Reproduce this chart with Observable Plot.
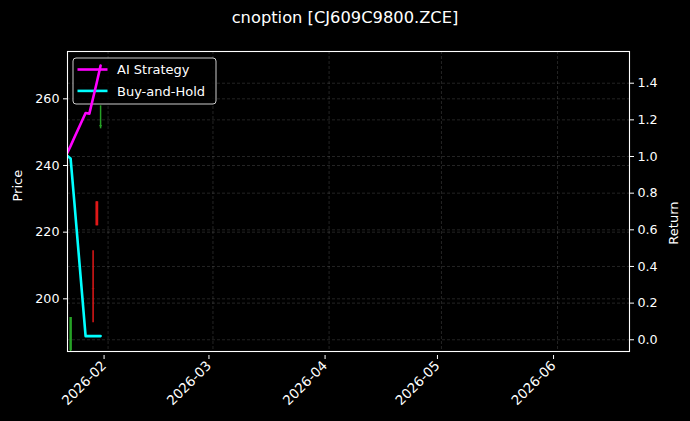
<!DOCTYPE html>
<html><head><meta charset="utf-8">
<script src="https://cdn.jsdelivr.net/npm/d3@7"></script>
<script src="https://cdn.jsdelivr.net/npm/@observablehq/plot@0.6"></script>
<style>
html,body{margin:0;padding:0;background:#000;}
#chart{width:690px;height:421px;position:relative;background:#000;font-family:"DejaVu Sans",sans-serif;color:#fff;}
#title{height:36px;line-height:36px;text-align:center;font-size:16.3px;}
svg{display:block;}
</style></head><body>
<div id="chart"><div id="title">cnoption [CJ609C9800.ZCE]</div></div>
<script>
// ---- data ----
const lineDates = ["2026-01-21","2026-01-22","2026-01-23","2026-01-26","2026-01-27","2026-01-28","2026-01-29","2026-01-30"];
const aiReturn  = [1.015, 1.058, 1.104, 1.237, 1.234, 1.319, 1.405, 1.496];
const bhReturn  = [1.005, 0.989, 0.75, 0.02, 0.02, 0.02, 0.02, 0.02];

const candleDates = ["2026-01-22","2026-01-28","2026-01-29","2026-01-30"];
const candleOpen  = [184.5, 203.0, 229.1, 251.6];
const candleClose = [194.4, 202.9, 221.9, 252.0];
const candleHigh  = [194.4, 214.4, 229.1, 257.9];
const candleLow   = [183.0, 192.8, 221.9, 251.0];

const priceTicks  = [200, 220, 240, 260];
const returnTicks = [0.0, 0.2, 0.4, 0.6, 0.8, 1.0, 1.2, 1.4];
const xDomain = ["2026-01-21T04:00Z", "2026-06-20T05:00Z"];
const priceDomain  = [184.2, 274.2];
const returnDomain = [-0.064, 1.573];
const seriesNames = ["AI Strategy", "Buy-and-Hold"];
const seriesColors = ["#ff00ff", "#00ffff"];

// ---- build tables ----
const parse = d3.utcParse("%Y-%m-%d");
const toPrice = d3.scaleLinear().domain(returnDomain).range(priceDomain);
const lines = [];
lineDates.forEach((d, i) => {
  lines.push({date: parse(d), series: seriesNames[0], v: toPrice(aiReturn[i])});
  lines.push({date: parse(d), series: seriesNames[1], v: toPrice(bhReturn[i])});
});
const candles = candleDates.map((d, i) => ({
  date: parse(d), open: candleOpen[i], close: candleClose[i], high: candleHigh[i], low: candleLow[i]
}));
const up = candles.filter(d => d.close >= d.open);
const down = candles.filter(d => d.close < d.open);
const xd = xDomain.map(s => new Date(s));
const monthTicks = d3.utcMonths(xd[0], xd[1]);
const GREEN = "#26a226", RED = "#e01818";
const gridStyle = {stroke: "#ffffff", strokeOpacity: 0.24, strokeWidth: 0.6, strokeDasharray: "3,2"};

const plot = Plot.plot({
  width: 690, height: 385,
  marginTop: 15, marginBottom: 70, marginLeft: 67, marginRight: 61,
  style: {background: "#000", color: "#fff", fontFamily: "DejaVu Sans, sans-serif", fontSize: "12.7px"},
  x: {type: "utc", domain: xd},
  y: {domain: priceDomain},
  color: {domain: seriesNames, range: seriesColors},
  marks: [
    Plot.gridX(monthTicks, {...gridStyle}),
    Plot.gridY(priceTicks, {...gridStyle}),
    Plot.gridY(returnTicks.map(toPrice), {...gridStyle}),
    Plot.ruleX(up, {x: "date", y1: "low", y2: "high", stroke: GREEN, strokeWidth: 1.5, clip: true}),
    Plot.ruleX(up, {x: "date", y1: "open", y2: "close", stroke: GREEN, strokeWidth: 2.4, clip: true}),
    Plot.ruleX(down, {x: "date", y1: "low", y2: "high", stroke: RED, strokeWidth: 1.5, clip: true}),
    Plot.ruleX(down, {x: "date", y1: "open", y2: "close", stroke: RED, strokeWidth: 2.8, clip: true}),
    Plot.line(lines, {x: "date", y: "v", z: "series", stroke: "series", strokeWidth: 2.6, clip: true}),
    Plot.frame({stroke: "#fff", strokeWidth: 1.1}),
    Plot.axisY(priceTicks, {anchor: "left", tickSize: 4, tickPadding: 4, label: null, stroke: "#fff", fill: "#fff"}),
    Plot.axisY(returnTicks.map(toPrice), {anchor: "right", tickSize: 4, tickPadding: 4, label: null, stroke: "#fff", fill: "#fff",
      tickFormat: p => { const r = toPrice.invert(p); return (Math.abs(r) < 1e-9 ? 0 : r).toFixed(1); }}),
    Plot.axisX(monthTicks, {anchor: "bottom", tickSize: 4, tickPadding: 4, tickRotate: -45, label: null,
      tickFormat: d3.utcFormat("%Y-%m"), stroke: "#fff", fill: "#fff", fontSize: 13.4, dx: -4, dy: 4}),
    Plot.text(["Price"], {frameAnchor: "left", dx: -50, rotate: -90, fill: "#fff", fontSize: 13}),
    Plot.text(["Return"], {frameAnchor: "right", dx: 44, rotate: -90, fill: "#fff", fontSize: 13})
  ]
});
document.getElementById("chart").appendChild(plot);

// ---- legend (drawn beneath the return lines, above the candles) ----
const firstLine = plot.querySelector('g[aria-label="line"]');
const lg = document.createElementNS("http://www.w3.org/2000/svg", "g");
plot.insertBefore(lg, firstLine);
const L = d3.select(lg).attr("transform", "translate(73,22)");
L.append("rect").attr("width", 143).attr("height", 46).attr("rx", 3)
  .attr("fill", "#000").attr("fill-opacity", 0.85).attr("stroke", "#cccccc").attr("stroke-width", 1);
seriesNames.forEach((name, i) => {
  const y = 11.5 + i * 21.4;
  L.append("line").attr("x1", 4.5).attr("x2", 34.5).attr("y1", y).attr("y2", y)
    .attr("stroke", seriesColors[i]).attr("stroke-width", 2.6);
  L.append("text").attr("x", 44).attr("y", y).attr("dy", "0.36em").attr("text-anchor", "start")
    .attr("fill", "#fff").attr("font-size", "13px").attr("font-family", "DejaVu Sans, sans-serif").text(name);
});
</script>
</body></html>
